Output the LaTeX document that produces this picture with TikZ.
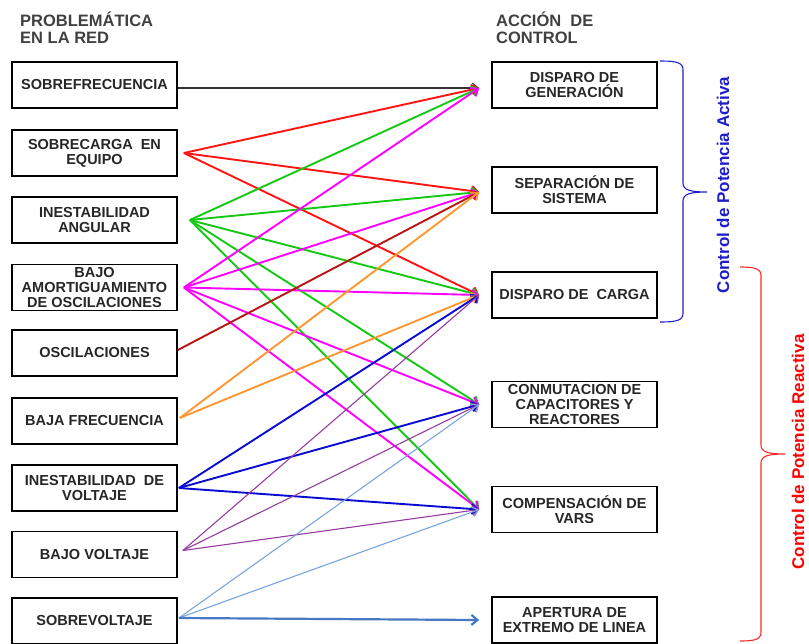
\documentclass[tikz,border=0pt]{standalone}
\usepackage{fontspec}
\setmainfont{Liberation Sans}
\usetikzlibrary{arrows.meta,positioning,calc}
\definecolor{lnred}{RGB}{255,20,20}
\definecolor{lngreen}{RGB}{20,200,20}
\definecolor{lnmagenta}{RGB}{255,0,255}
\definecolor{lndarkred}{RGB}{185,20,20}
\definecolor{lnorange}{RGB}{255,150,50}
\definecolor{lnblue}{RGB}{10,10,210}
\definecolor{lnpurple}{RGB}{150,60,160}
\definecolor{lnsky}{RGB}{120,165,220}
\definecolor{lnsteel}{RGB}{70,120,195}
\definecolor{bracered}{RGB}{255,40,40}
\definecolor{braceblue}{RGB}{30,30,200}

\begin{document}
\begin{tikzpicture}[x=1pt,y=-1pt,
  caja/.style={draw,line width=1.7pt,minimum width=165pt,minimum height=46pt,inner sep=2pt,
    align=center,font=\fontsize{14.5}{15}\selectfont\bfseries,text=black!85},
  titulo/.style={anchor=north west,inner sep=0pt,align=left,
    font=\fontsize{16.5}{16.5}\selectfont\bfseries,text=black!75},
  flecha/.style={line width=1.9pt,-{Straight Barb[length=6pt,width=10pt]}},
  fina/.style={line width=1.1pt},
  rotulo/.style={rotate=90,inner sep=0pt,font=\fontsize{17}{17}\selectfont\bfseries}]
  \useasboundingbox (0,0) rectangle (809,643);
  %% titles
  \node[titulo] (probl) at (20,12) {PROBLEMÁTICA\\EN LA RED};
  \node[titulo] (accion) at (496,12) {ACCIÓN \ DE\\CONTROL};
  %% problems
  \node[caja] (sobrefrec) at (94.5,85) {SOBREFRECUENCIA};
  \node[caja] (sobrecarga) at (94.5,153) {SOBRECARGA \ EN\\EQUIPO};
  \node[caja] (angular) at (94.5,220) {INESTABILIDAD\\ANGULAR};
  \node[caja] (amort) at (94.5,287.5) {BAJO\\AMORTIGUAMIENTO\\DE OSCILACIONES};
  \node[caja] (oscil) at (94.5,353) {OSCILACIONES};
  \node[caja] (bajafrec) at (94.5,421) {BAJA FRECUENCIA};
  \node[caja] (inestv) at (94.5,488) {INESTABILIDAD \ DE\\VOLTAJE};
  \node[caja] (bajov) at (94.5,554.5) {BAJO VOLTAJE};
  \node[caja] (sobrev) at (94.5,621) {SOBREVOLTAJE};
  %% control actions
  \node[caja] (dispgen) at (574.5,85) {DISPARO DE\\GENERACIÓN};
  \node[caja] (separa) at (574.5,190) {SEPARACIÓN DE\\SISTEMA};
  \node[caja] (dispcarga) at (574.5,295) {DISPARO DE \ CARGA};
  \node[caja] (conmut) at (574.5,404.5) {CONMUTACION DE\\CAPACITORES Y\\REACTORES};
  \node[caja] (compvars) at (574.5,509.5) {COMPENSACIÓN DE\\VARS};
  \node[caja] (apertura) at (574.5,620) {APERTURA DE\\EXTREMO DE LINEA};
  %% start and end points
  \coordinate (o1) at ([yshift=-3pt]sobrefrec.east);
  \coordinate (o2) at ([xshift=6pt]sobrecarga.east);
  \coordinate (o3) at ([xshift=12pt]angular.east);
  \coordinate (o4) at ([xshift=6pt]amort.east);
  \coordinate (o5) at ([yshift=3pt]oscil.east);
  \coordinate (o6) at ([xshift=2pt,yshift=3pt]bajafrec.east);
  \coordinate (o7) at ([xshift=1pt]inestv.east);
  \coordinate (o8) at ([xshift=5pt,yshift=4pt]bajov.east);
  \coordinate (o9) at ([xshift=1pt,yshift=3pt]sobrev.east);
  \coordinate (e1) at ([xshift=-12pt,yshift=-3pt]dispgen.west);
  \coordinate (e2) at ([xshift=-12pt,yshift=-2pt]separa.west);
  \coordinate (e3) at ([xshift=-12pt]dispcarga.west);
  \coordinate (e4) at ([xshift=-12pt]conmut.west);
  \coordinate (e5) at ([xshift=-12pt]compvars.west);
  \coordinate (e6) at ([xshift=-12pt]apertura.west);
  %% connections
  \draw[flecha,fina,black!80] (o1) -- (e1);
  \foreach \d in {e1,e2,e3} \draw[flecha,lnred] (o2) -- (\d);
  \foreach \d in {e1,e2,e3,e4,e5} \draw[flecha,lngreen] (o3) -- (\d);
  \foreach \d in {e1,e2,e3,e4,e5} \draw[flecha,lnmagenta] (o4) -- (\d);
  \draw[flecha,lndarkred] (o5) -- (e2);
  \foreach \d in {e2,e3} \draw[flecha,lnorange] (o6) -- (\d);
  \foreach \d in {e3,e4,e5} \draw[flecha,lnblue] (o7) -- (\d);
  \foreach \d in {e3,e4,e5} \draw[flecha,fina,lnpurple] (o8) -- (\d);
  \foreach \d in {e4,e5} \draw[flecha,fina,lnsky] (o9) -- (\d);
  \draw[flecha,lnsteel,line width=2.2pt] (o9) -- (e6);
  %% braces
  \draw[braceblue,line width=1.1pt] (660,61) .. controls (678,61) and (683,63) .. (683,70)
    -- (683,183) .. controls (683,190) and (690,192) .. (707,192)
    .. controls (690,192) and (683,194) .. (683,201) -- (683,313)
    .. controls (683,320) and (678,322) .. (660,322);
  \draw[bracered,line width=1.1pt] (740,267) .. controls (756,267) and (761,269) .. (761,276)
    -- (761,445) .. controls (761,452) and (768,454) .. (785,454)
    .. controls (768,454) and (761,456) .. (761,463) -- (761,632)
    .. controls (761,639) and (756,641) .. (740,641);
  \node[rotulo,text=braceblue] (activa) at (723,185) {Control de Potencia Activa};
  \node[rotulo,text=red] (reactiva) at (798,452) {Control de Potencia Reactiva};
\end{tikzpicture}
\end{document}
